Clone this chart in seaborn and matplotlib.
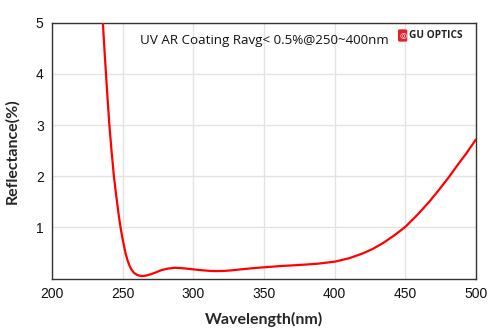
import matplotlib
matplotlib.use("Agg")
import matplotlib.pyplot as plt
import seaborn as sns
import pandas as pd
from matplotlib.patches import FancyBboxPatch

wavelength = [235.0, 236.0, 237.05, 238.2, 239.35, 240.6, 242.1, 243.8, 245.0, 246.0,
              247.2, 248.5, 249.7, 250.8, 252.0, 253.5, 255.1, 256.5, 258.0,
              260.0, 261.5, 263.3, 265.0, 267.0, 270.0, 273.5, 277.4, 282.0, 286.9,
              291.0, 295.0, 300.0, 305.0, 311.6, 316.0, 321.0, 327.0, 332.0, 337.4,
              343.0, 350.0, 362.0, 375.0, 388.0, 400.0, 410.0, 419.8, 427.0, 434.0,
              442.0, 450.0, 458.0, 466.9, 474.0, 481.0, 487.0, 493.0, 500.0]
reflectance = [5.45, 5.0, 4.5, 4.0, 3.5, 3.0, 2.5, 2.0, 1.72, 1.5,
               1.24, 1.0, 0.81, 0.66, 0.5, 0.35, 0.235, 0.165, 0.112,
               0.075, 0.058, 0.05, 0.052, 0.062, 0.085, 0.12, 0.165, 0.195, 0.21,
               0.205, 0.195, 0.18, 0.165, 0.15, 0.146, 0.148, 0.16, 0.175, 0.19,
               0.205, 0.22, 0.245, 0.265, 0.29, 0.33, 0.395, 0.49, 0.58, 0.69,
               0.84, 1.01, 1.23, 1.5, 1.74, 1.99, 2.22, 2.44, 2.72]
x_ticks = [200, 250, 300, 350, 400, 450, 500]
y_ticks = [1, 2, 3, 4, 5]

df = pd.DataFrame({"Wavelength": wavelength, "Reflectance": reflectance})

sns.set_theme(style="white")
plt.rcParams['font.family'] = ['Liberation Sans', 'DejaVu Sans']

fig = plt.figure(figsize=(5.0, 3.34), dpi=100)
ax = fig.add_axes([0.104, 0.166, 0.848, 0.766])

sns.lineplot(data=df, x="Wavelength", y="Reflectance", ax=ax, color="#ff0000",
             linewidth=1.6, zorder=3, solid_joinstyle="round", solid_capstyle="round")

ax.set_xlim(200, 500)
ax.set_ylim(0, 5)
ax.set_xticks(x_ticks)
ax.set_yticks(y_ticks)
ax.grid(True, color="#e3e3e3", linewidth=1.0)
ax.tick_params(axis='both', length=0, labelsize=10, colors="#111111", pad=6)
for s in ax.spines.values():
    s.set_color("#333333")
    s.set_linewidth(1.0)
    s.set_visible(True)

ax.set_xlabel("Wavelength(nm)", fontsize=11.5, fontweight="bold", family=["Lato", "DejaVu Sans"], labelpad=8)
ax.set_ylabel("Reflectance(%)", fontsize=11.5, fontweight="bold", family=["Lato", "DejaVu Sans"], labelpad=12)

ax.text(0.208, 0.955, "UV AR Coating Ravg< 0.5%@250~400nm", transform=ax.transAxes,
        fontsize=9.6, family=["Open Sans", "DejaVu Sans"], va="top", ha="left", color="#111111")

# logo
lx, ly = 0.818, 0.95
logo = FancyBboxPatch((lx, ly - 0.022), 0.018, 0.044, boxstyle="round,pad=0.002,rounding_size=0.005",
                      transform=ax.transAxes, facecolor="#e0202a", edgecolor="none", zorder=5)
ax.add_patch(logo)
ax.text(lx + 0.009, ly, "◎", transform=ax.transAxes, fontsize=6, color="white",
        ha="center", va="center", zorder=6, family=["DejaVu Sans"], fontweight="bold")
ax.text(lx + 0.023, ly, "GU OPTICS", transform=ax.transAxes, fontsize=7.3, fontweight="bold",
        color="#222222", ha="left", va="center", zorder=6, family=["Open Sans", "DejaVu Sans"])

fig.savefig("out.png", dpi=100)
